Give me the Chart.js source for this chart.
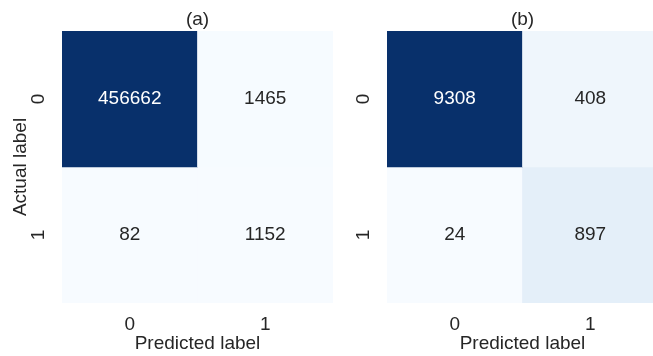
<!DOCTYPE html>
<html>
<head>
<meta charset="utf-8">
<script src="https://cdn.jsdelivr.net/npm/chart.js@4"></script>
<style>
  html, body { margin: 0; padding: 0; background: #ffffff; overflow: hidden; }
  #wrap { position: relative; width: 653px; height: 356px; overflow: hidden; }
  canvas { position: absolute; top: 0; }
  #cmA { left: 0; }
  #cmB { left: 340px; }
</style>
</head>
<body>
<div id="wrap">
  <canvas id="cmA" width="340" height="356"></canvas>
  <canvas id="cmB" width="320" height="356"></canvas>
</div>
<script>
// Class labels on both axes
const predictedLabels = ['0', '1'];
const actualLabels = ['0', '1'];
const panelTitles = ['(a)', '(b)'];

// Confusion counts, one array per actual class (columns follow predictedLabels)
const countsA0 = [456662, 1465];
const countsA1 = [82, 1152];
const countsB0 = [9308, 408];
const countsB1 = [24, 897];

const FONT = "'Liberation Sans', Arial, Helvetica, sans-serif";
const INK = '#262626';
const FONT_SIZE = 19;

// Sequential "Blues" colour stops
const BLUES = ['#f7fbff', '#deebf7', '#c6dbef', '#9ecae1', '#6baed6',
               '#4292c6', '#2171b5', '#08519c', '#08306b'];

function hexToRgb(h) {
  return [1, 3, 5].map(i => parseInt(h.slice(i, i + 2), 16));
}

function blues(t) {
  t = Math.max(0, Math.min(1, t));
  const pos = t * (BLUES.length - 1);
  const i = Math.min(Math.floor(pos), BLUES.length - 2);
  const f = pos - i;
  const a = hexToRgb(BLUES[i]);
  const b = hexToRgb(BLUES[i + 1]);
  return a.map((v, k) => Math.round(v + (b[k] - v) * f));
}

function luminance(rgb) {
  const lin = rgb.map(c => {
    c /= 255;
    return c <= 0.03928 ? c / 12.92 : Math.pow((c + 0.055) / 1.055, 2.4);
  });
  return 0.2126 * lin[0] + 0.7152 * lin[1] + 0.0722 * lin[2];
}

// Writes each cell's count in the middle of its rectangle
const cellValues = {
  id: 'cellValues',
  afterDatasetsDraw(chart) {
    const ctx = chart.ctx;
    ctx.save();
    ctx.font = FONT_SIZE + 'px ' + FONT;
    ctx.textAlign = 'center';
    ctx.textBaseline = 'middle';
    chart.data.datasets.forEach((ds, d) => {
      chart.getDatasetMeta(d).data.forEach((bar, i) => {
        const p = bar.getCenterPoint();
        ctx.fillStyle = ds.textColors[i];
        ctx.fillText(String(ds.counts[i]), p.x, p.y);
      });
    });
    ctx.restore();
  }
};

function confusionChart(canvasId, title, rows, showYTitle, yAxisWidth, rightPad) {
  const all = rows.flat();
  const vmin = Math.min(...all);
  const vmax = Math.max(...all);
  const rgbOf = v => blues((v - vmin) / (vmax - vmin));

  // each actual class is one dataset of floating bars covering its row band
  const datasets = rows.map((counts, r) => ({
    label: actualLabels[r],
    counts: counts,
    data: counts.map(() => [r, r + 1]),
    backgroundColor: counts.map(v => 'rgb(' + rgbOf(v).join(',') + ')'),
    textColors: counts.map(v => luminance(rgbOf(v)) > 0.408 ? INK : '#ffffff'),
    barPercentage: 1,
    categoryPercentage: 1,
    grouped: false,
    borderWidth: 0
  }));

  const font = { family: FONT, size: FONT_SIZE, weight: 'normal' };

  return new Chart(document.getElementById(canvasId), {
    type: 'bar',
    data: { labels: predictedLabels, datasets: datasets },
    options: {
      responsive: false,
      animation: false,
      devicePixelRatio: 1,
      layout: { padding: { left: 0, right: rightPad, top: 0, bottom: 0 } },
      plugins: {
        legend: { display: false },
        tooltip: { enabled: false },
        title: {
          display: true,
          text: title,
          color: INK,
          fullSize: false,
          font: { family: FONT, size: FONT_SIZE, weight: 'normal', lineHeight: 1.2 },
          padding: { top: 8, bottom: 0.2 }
        }
      },
      scales: {
        x: {
          type: 'category',
          offset: true,
          grid: { display: false, drawTicks: false },
          border: { display: false },
          ticks: { color: INK, font: font, padding: 10 },
          title: {
            display: true,
            text: 'Predicted label',
            color: INK,
            font: font,
            padding: { top: 0, bottom: 0.6 }
          },
          afterFit(s) { s.height = 53; }
        },
        y: {
          type: 'linear',
          min: 0,
          max: 2,
          reverse: true,
          grid: { display: false, drawTicks: false },
          border: { display: false },
          afterBuildTicks(s) {
            s.ticks = actualLabels.map((_, r) => ({ value: r + 0.5 }));
          },
          ticks: {
            color: INK,
            font: font,
            padding: 17.7,
            minRotation: 90,
            maxRotation: 90,
            crossAlign: 'center',
            callback: v => actualLabels[Math.floor(v)]
          },
          title: {
            display: showYTitle,
            text: 'Actual label',
            color: INK,
            font: font,
            padding: { top: 9.6, bottom: 0 }
          },
          afterFit(s) { s.width = yAxisWidth; }
        }
      }
    },
    plugins: [cellValues]
  });
}

confusionChart('cmA', panelTitles[0], [countsA0, countsA1], true, 62, 7);
confusionChart('cmB', panelTitles[1], [countsB0, countsB1], false, 47, 2);
</script>
</body>
</html>
